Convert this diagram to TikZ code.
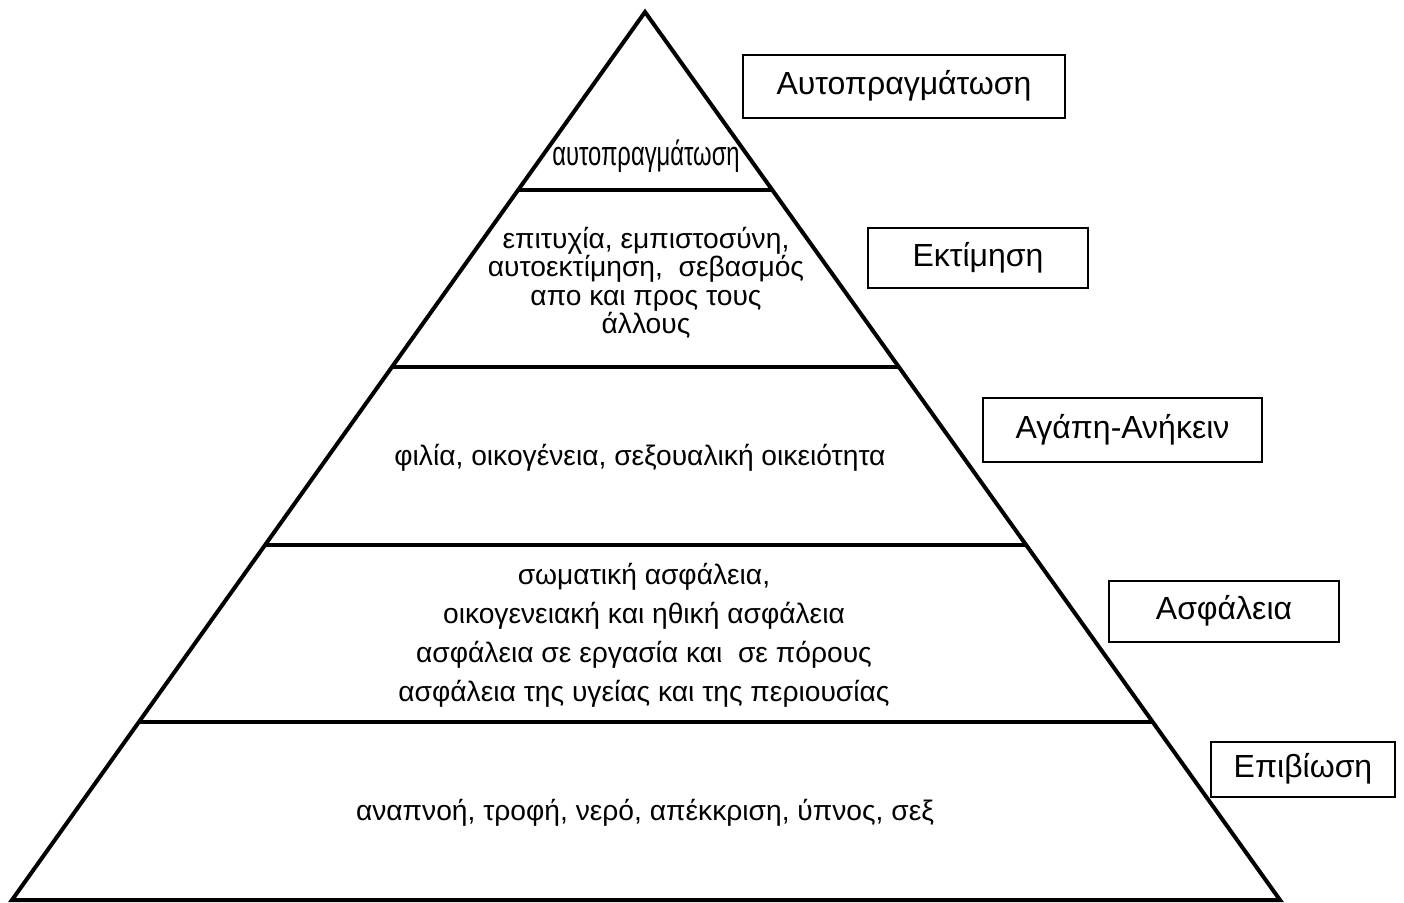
\documentclass[tikz,border=0pt]{standalone}
\usepackage{fontspec}
\setmainfont{Liberation Sans}
\usetikzlibrary{calc}
\begin{document}
\begin{tikzpicture}[x=1pt,y=-1pt,
  edge/.style={line width=4pt},
  levelbox/.style={draw,line width=1.6pt,inner sep=0pt,text height=23pt,text depth=7pt,
    font=\fontsize{32}{36}\selectfont},
  body/.style={inner sep=0pt,align=center,font=\fontsize{28.2}{28.5}\selectfont}]
\useasboundingbox (0,0) rectangle (1404,902);
% pyramid outline
\coordinate (apex) at (645,12);
\coordinate (bl) at (12,900);
\coordinate (br) at (1280,900);
\draw[edge,line join=miter] (apex) -- (bl) -- (br) -- cycle;
% level dividers
\foreach \t/\n in {0.2/a,0.4/b,0.6/c,0.8/d}{
  \coordinate (l\n) at ($(apex)!\t!(bl)$);
  \coordinate (r\n) at ($(apex)!\t!(br)$);
  \draw[edge] (l\n) -- (r\n);
}
% contents of each level
\node[body,font=\fontsize{34}{36}\selectfont,xscale=0.70] (t5) at (646,156) {αυτοπραγμάτωση};
\node[body] (t4) at (646,283) {επιτυχία, εμπιστοσύνη,\\αυτοεκτίμηση,\ \ σεβασμός\\απο και προς τους\\άλλους};
\node[body] (t3) at (640,458) {φιλία, οικογένεια, σεξουαλική οικειότητα};
\node[body,font=\fontsize{28.2}{39}\selectfont] (t2) at (644,635) {σωματική ασφάλεια,\\οικογενειακή και ηθική ασφάλεια\\ασφάλεια σε εργασία και\ \ σε πόρους\\ασφάλεια της υγείας και της περιουσίας};
\node[body] (t1) at (645,813) {αναπνοή, τροφή, νερό, απέκκριση, ύπνος, σεξ};
% level names
\node[levelbox,minimum width=322pt,minimum height=63pt] (b5) at (904,86.5) {Αυτοπραγμάτωση};
\node[levelbox,minimum width=220pt,minimum height=60pt] (b4) at (978,258) {Εκτίμηση};
\node[levelbox,minimum width=279pt,minimum height=64pt] (b3) at (1122.5,430) {Αγάπη-Ανήκειν};
\node[levelbox,minimum width=230pt,minimum height=61pt] (b2) at (1224,611.5) {Ασφάλεια};
\node[levelbox,minimum width=184pt,minimum height=55pt] (b1) at (1303,769.5) {Επιβίωση};
\end{tikzpicture}
\end{document}
